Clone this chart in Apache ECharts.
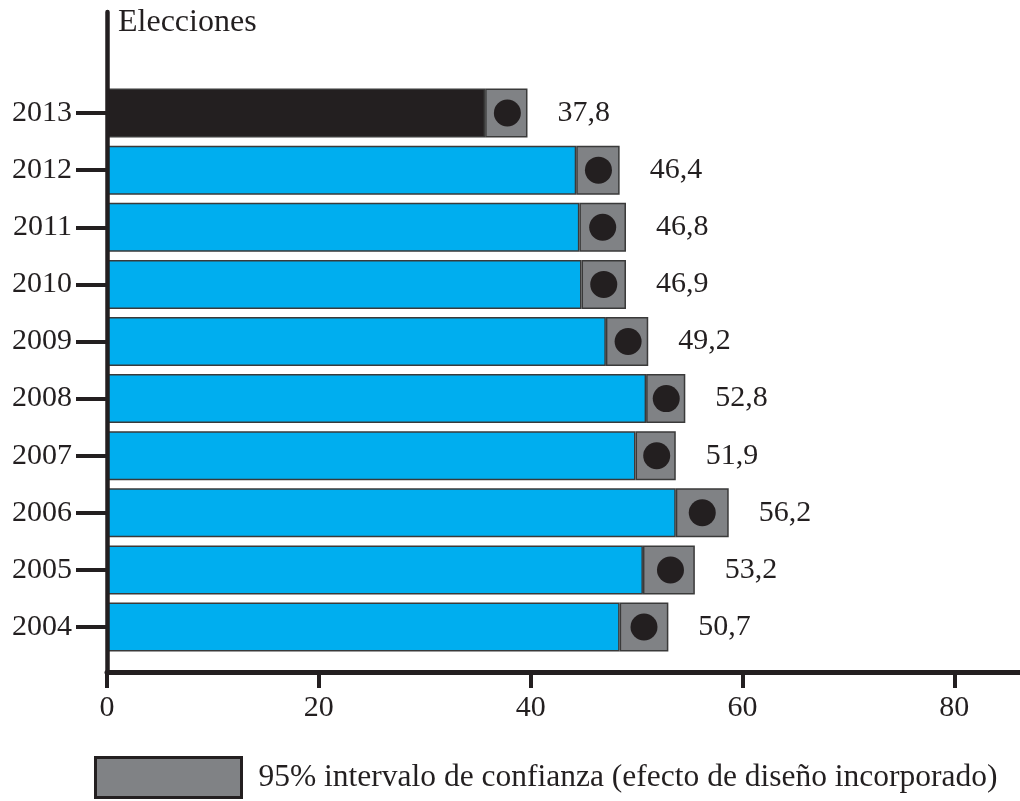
<!DOCTYPE html>
<html>
<head>
<meta charset="utf-8">
<title>Elecciones</title>
<script src="https://cdn.jsdelivr.net/npm/echarts@6/dist/echarts.min.js"></script>
<style>
  html, body { margin: 0; padding: 0; background: #ffffff; }
  #chart { width: 1020px; height: 801px; }
</style>
</head>
<body>
<div id="chart"></div>
<script>
// Survey estimate per election year, with its 95% confidence interval
const years = ['2004', '2005', '2006', '2007', '2008', '2009', '2010', '2011', '2012', '2013'];
const values = [50.7, 53.2, 56.2, 51.9, 52.8, 49.2, 46.9, 46.8, 46.4, 37.8];
const ciLow = [48.4, 50.6, 53.7, 49.9, 50.9, 47.1, 44.8, 44.6, 44.3, 35.7];
const ciHigh = [53.0, 55.5, 58.7, 53.7, 54.6, 51.1, 49.0, 49.0, 48.4, 39.7];
const latestYear = '2013';
const xMin = 0;
const xMax = 86.2;
const xStep = 20;
const ciName = '95% intervalo de confianza (efecto de diseño incorporado)';

const INK = '#231F20';
const BLUE = '#00AEEF';
const GREY = '#808285';
const FONT = '"Liberation Serif", "Times New Roman", serif';
const FS = 30;

const fmt = v => v.toFixed(1).replace('.', ',');

const baseData = years.map((y, i) => ({
  value: ciLow[i],
  itemStyle: { color: y === latestYear ? INK : BLUE }
}));
const ciData = years.map((y, i) => +(ciHigh[i] - ciLow[i]).toFixed(2));
const dotData = years.map((y, i) => [values[i], y]);

const chart = echarts.init(document.getElementById('chart'), null, { renderer: 'canvas' });

chart.setOption({
  backgroundColor: '#ffffff',
  animation: false,
  title: {
    text: 'Elecciones',
    left: 118,
    top: 7,
    padding: 0,
    textStyle: { fontFamily: FONT, fontSize: 32, fontWeight: 'normal', color: INK }
  },
  legend: {
    data: [ciName],
    left: 94,
    top: 756,
    padding: 0,
    itemWidth: 146,
    itemHeight: 40,
    icon: 'rect',
    selectedMode: false,
    itemStyle: { color: GREY, borderColor: INK, borderWidth: 3 },
    textStyle: { fontFamily: FONT, fontSize: 31.5, color: INK, padding: [0, 0, 0, 12] }
  },
  grid: [
    // frame grid: carries the long axis lines and the value scale
    { left: 107, right: 0, top: 12, bottom: 129 },
    // bar grid: one band per year
    { left: 107, right: 0, top: 84.5, bottom: 145.4 }
  ],
  xAxis: [
    {
      gridIndex: 0, type: 'value', min: xMin, max: xMax, interval: xStep, z: 10,
      axisLine: { show: true, lineStyle: { color: INK, width: 5 } },
      axisTick: { show: true, length: 16, lineStyle: { color: INK, width: 4 } },
      axisLabel: {
        margin: 21, fontFamily: FONT, fontSize: FS, color: INK,
        showMaxLabel: false
      },
      splitLine: { show: false }
    },
    {
      gridIndex: 1, type: 'value', min: xMin, max: xMax, interval: xStep,
      show: false
    }
  ],
  yAxis: [
    {
      gridIndex: 0, type: 'value', min: 0, max: 1, z: 10,
      axisLine: { show: true, lineStyle: { color: INK, width: 4.5 } },
      axisTick: { show: false }, axisLabel: { show: false }, splitLine: { show: false }
    },
    {
      gridIndex: 1, type: 'category', data: years, z: 10,
      axisLine: { show: false },
      axisTick: { show: true, alignWithLabel: true, length: 31, lineStyle: { color: INK, width: 4 } },
      axisLabel: { margin: 35, fontFamily: FONT, fontSize: FS, color: INK },
      splitLine: { show: false }
    }
  ],
  series: [
    {
      name: 'base',
      type: 'bar',
      xAxisIndex: 1, yAxisIndex: 1,
      stack: 'ci',
      barWidth: 49,
      data: baseData,
      itemStyle: { borderColor: '#3a3a3a', borderWidth: 1.5 }
    },
    {
      name: ciName,
      type: 'bar',
      xAxisIndex: 1, yAxisIndex: 1,
      stack: 'ci',
      barWidth: 49,
      data: ciData,
      itemStyle: { color: GREY, borderColor: '#3a3a3a', borderWidth: 1.5 },
      label: {
        show: true,
        position: 'right',
        distance: 30,
        fontFamily: FONT,
        fontSize: FS,
        color: INK,
        formatter: p => fmt(values[p.dataIndex])
      }
    },
    {
      name: 'estimate',
      type: 'scatter',
      xAxisIndex: 1, yAxisIndex: 1,
      symbol: 'circle',
      symbolSize: 27,
      z: 5,
      itemStyle: { color: INK, opacity: 1 },
      data: dotData
    }
  ]
});
</script>
</body>
</html>
